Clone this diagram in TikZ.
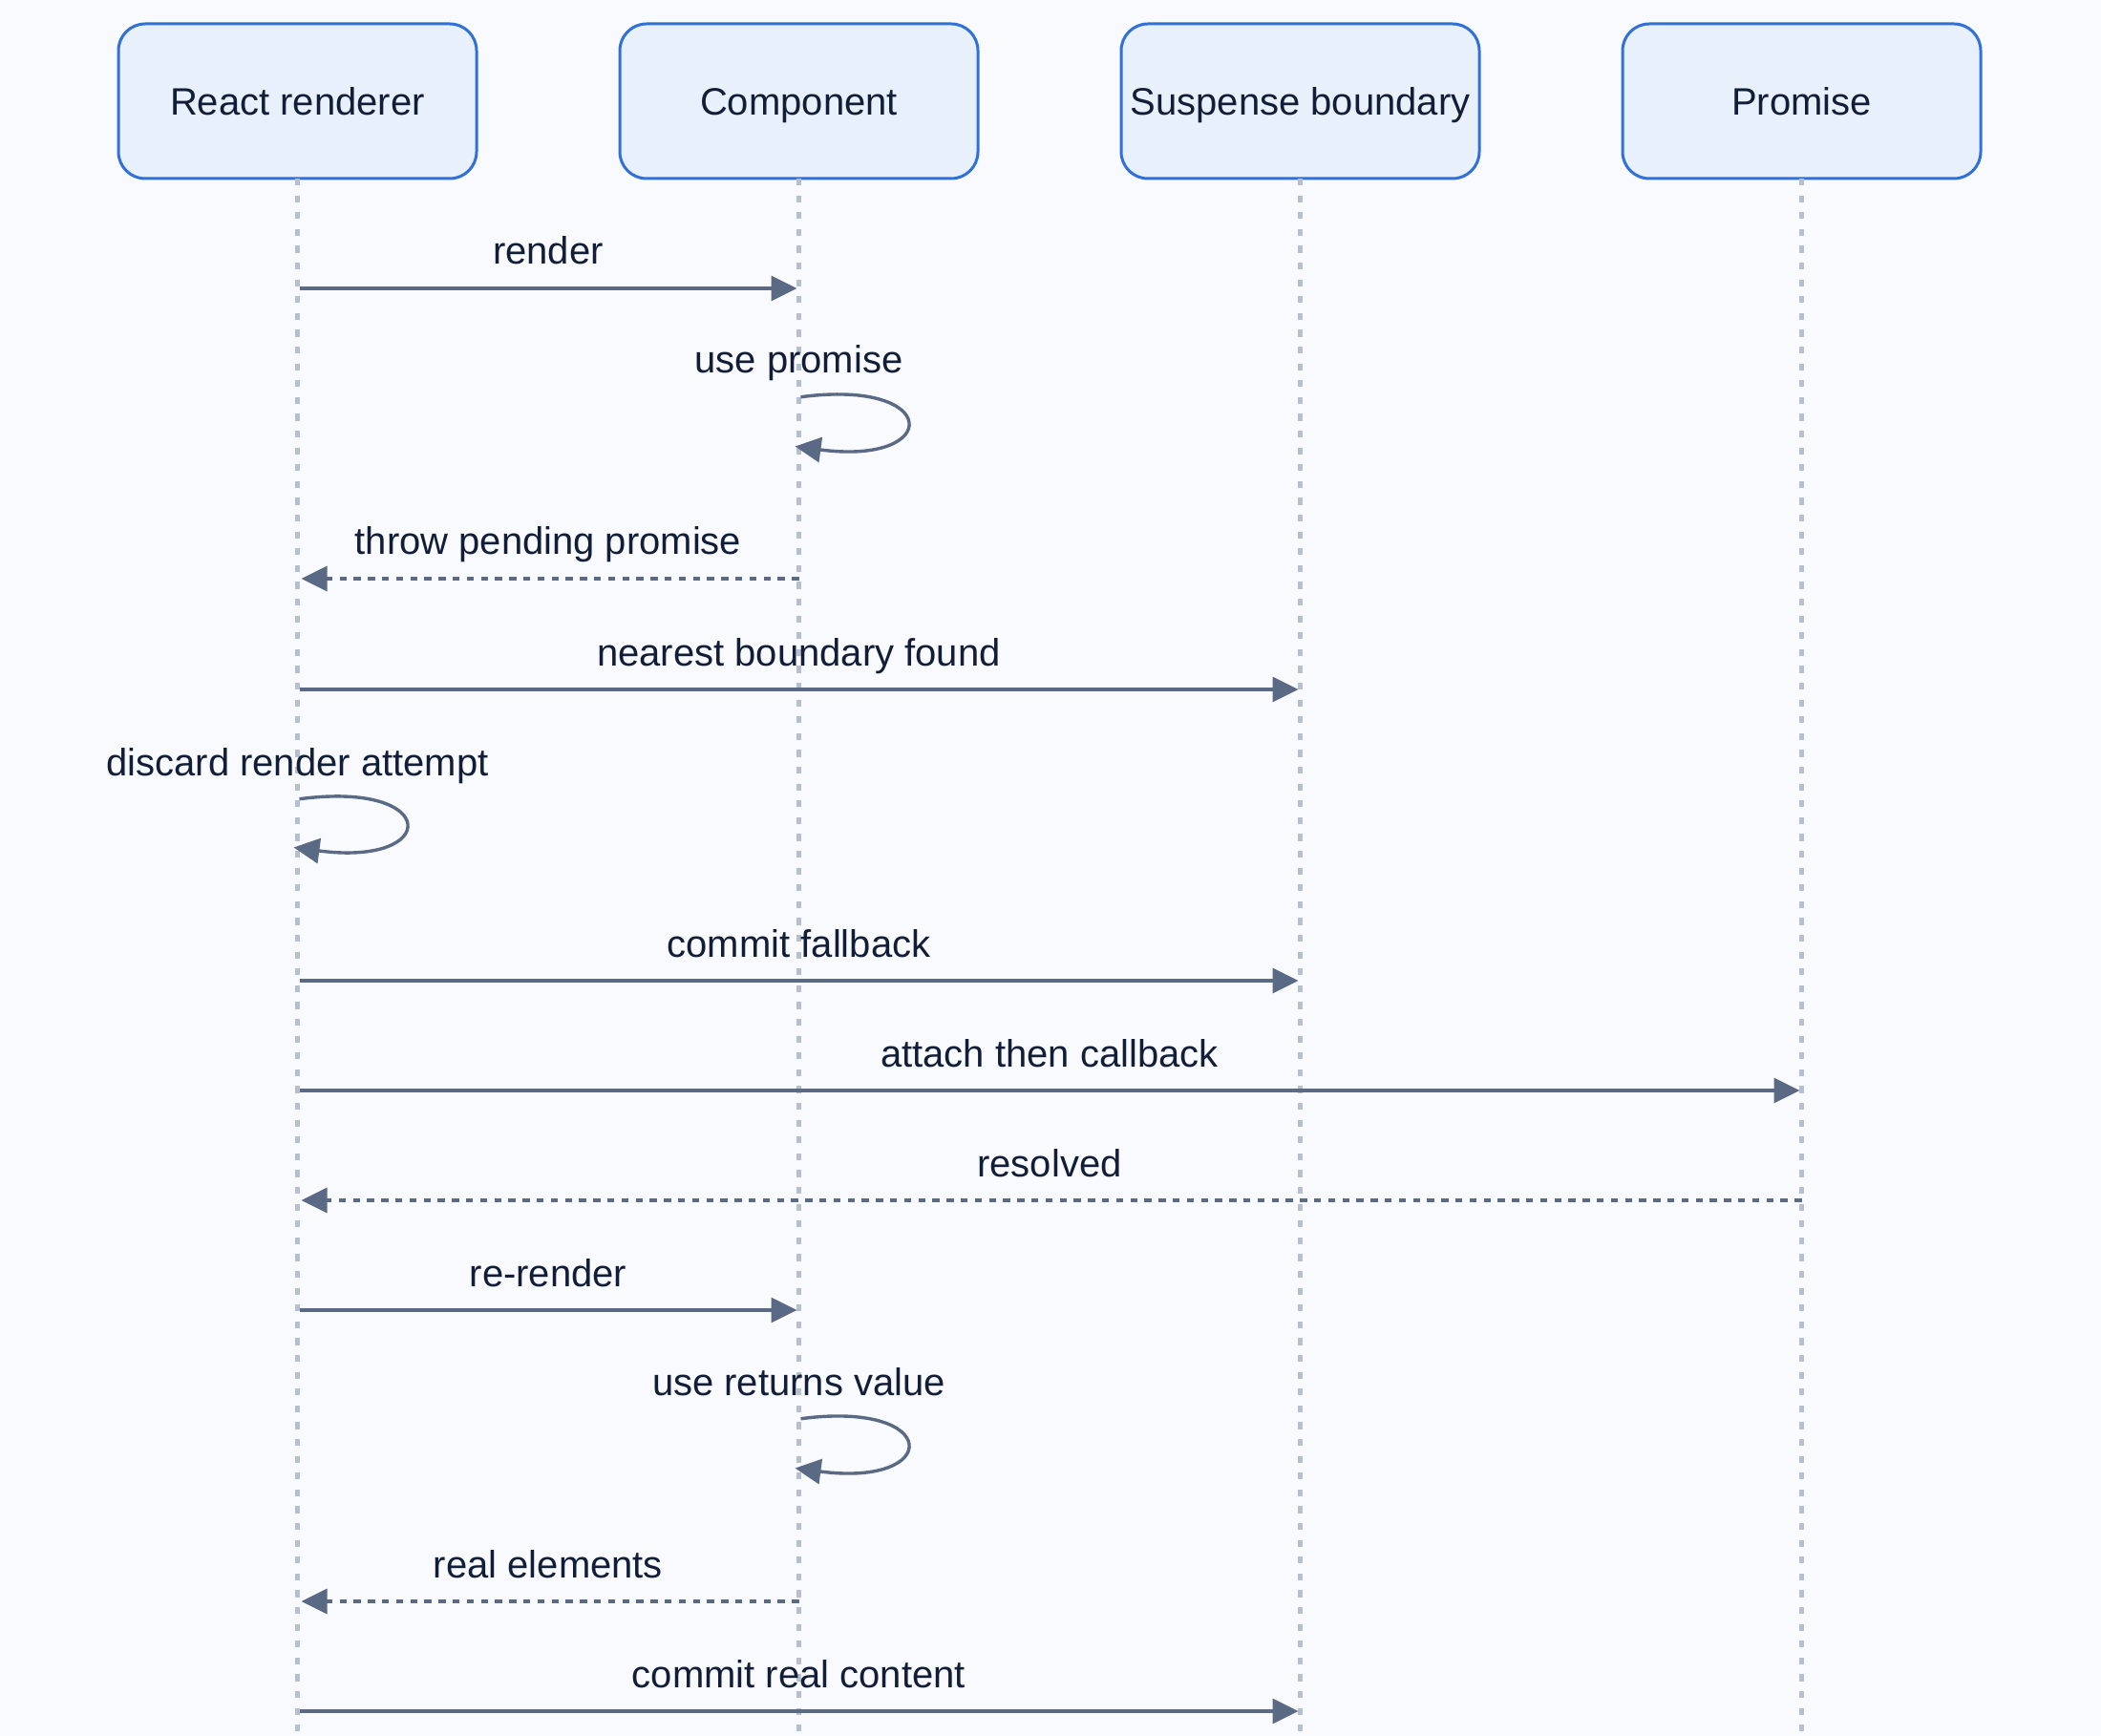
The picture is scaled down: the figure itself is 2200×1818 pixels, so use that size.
\documentclass[tikz,border=0pt]{standalone}
\usepackage{fontspec}
\setmainfont{Liberation Sans}
\usetikzlibrary{arrows.meta,positioning}
\definecolor{pagebg}{RGB}{248,250,253}
\definecolor{actorfill}{RGB}{232,240,252}
\definecolor{actorblue}{RGB}{48,112,216}
\definecolor{inkblue}{RGB}{18,30,56}
\definecolor{msgslate}{RGB}{90,106,133}
\definecolor{lifegrey}{RGB}{182,191,208}
\newcommand{\seqfont}{\fontsize{20}{24}\selectfont}

\begin{document}
\begin{tikzpicture}[x=0.5pt,y=-0.5pt,
    actor/.style={draw=actorblue,fill=actorfill,line width=1.5pt,rounded corners=14pt,
                  minimum width=187.5pt,minimum height=81pt,inner sep=0pt,outer sep=0pt,
                  text height=15pt,text depth=0pt,font=\seqfont,text=inkblue},
    lifeline/.style={draw=lifegrey,line width=2.4pt,dash pattern=on 3.6pt off 5.2pt},
    msg/.style={draw=msgslate,line width=1.7pt,shorten >=1pt,shorten <=1pt,
                -{Triangle[length=13.5pt,width=13pt]}},
    reply/.style={msg,shorten >=2pt,shorten <=0pt,dash pattern=on 3.7pt off 3.7pt},
    selfloop/.style={msg,shorten >=-2pt},
    msglabel/.style={font=\seqfont,text=inkblue,anchor=base,yshift=12.5pt}]
  \fill[pagebg] (0,0) rectangle (2200,1818);
  \useasboundingbox (0,0) rectangle (2200,1818);

  \node[actor] (rr) at (311.5,106) {React renderer};
  \node[actor,right=75pt of rr] (cp) {Component};
  \node[actor,right=75pt of cp] (sb) {Suspense boundary};
  \node[actor,right=75pt of sb] (pr) {Promise};

  \coordinate (bottom) at (0,1818);
  \draw[lifeline] (rr.south) -- (rr |- bottom);
  \draw[lifeline] (cp.south) -- (cp |- bottom);
  \draw[lifeline] (sb.south) -- (sb |- bottom);
  \draw[lifeline] (pr.south) -- (pr |- bottom);

  \coordinate (r1) at (0,302);
  \coordinate (l1a) at (0,416);
  \coordinate (l1b) at (0,468);
  \coordinate (r3) at (0,606);
  \coordinate (r4) at (0,722);
  \coordinate (l2a) at (0,837);
  \coordinate (l2b) at (0,888);
  \coordinate (r6) at (0,1027);
  \coordinate (r7) at (0,1142);
  \coordinate (r8) at (0,1257);
  \coordinate (r9) at (0,1372);
  \coordinate (l3a) at (0,1486);
  \coordinate (l3b) at (0,1538);
  \coordinate (r11) at (0,1677);
  \coordinate (r12) at (0,1792);

  \draw[msg] (rr |- r1) -- node[msglabel] {render} (cp |- r1);
  \node[msglabel] (n1) at (cp |- l1a) {use promise};
  \draw[selfloop] (cp |- l1a) .. controls +(150,-20) and +(150,20) .. (cp |- l1b);
  \draw[reply] (cp |- r3) -- node[msglabel] {throw pending promise} (rr |- r3);
  \draw[msg] (rr |- r4) -- node[msglabel] {nearest boundary found} (sb |- r4);
  \node[msglabel] (n2) at (rr |- l2a) {discard render attempt};
  \draw[selfloop] (rr |- l2a) .. controls +(150,-20) and +(150,20) .. (rr |- l2b);
  \draw[msg] (rr |- r6) -- node[msglabel] {commit fallback} (sb |- r6);
  \draw[msg] (rr |- r7) -- node[msglabel] {attach then callback} (pr |- r7);
  \draw[reply] (pr |- r8) -- node[msglabel] {resolved} (rr |- r8);
  \draw[msg] (rr |- r9) -- node[msglabel] {re-render} (cp |- r9);
  \node[msglabel] (n3) at (cp |- l3a) {use returns value};
  \draw[selfloop] (cp |- l3a) .. controls +(150,-20) and +(150,20) .. (cp |- l3b);
  \draw[reply] (cp |- r11) -- node[msglabel] {real elements} (rr |- r11);
  \draw[msg] (rr |- r12) -- node[msglabel] {commit real content} (sb |- r12);
\end{tikzpicture}
\end{document}
